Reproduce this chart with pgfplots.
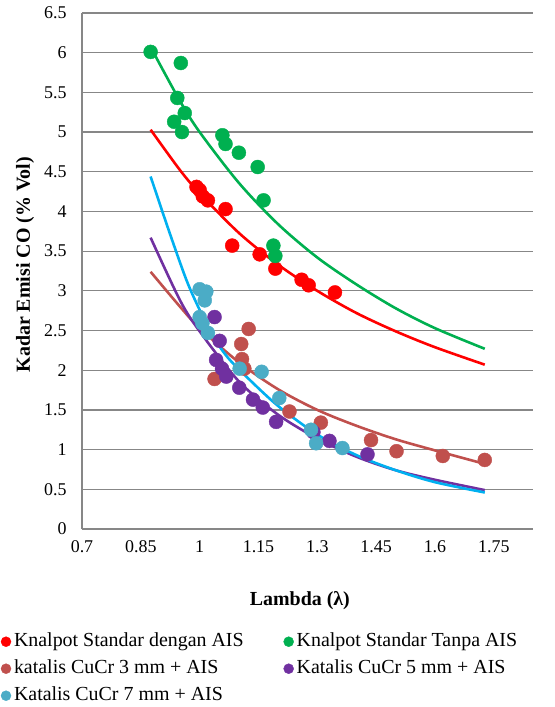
\documentclass[border=0pt]{standalone}
\usepackage{pgfplots}
\pgfplotsset{compat=1.18}
\usepackage{fontspec}
\setmainfont{Liberation Serif}
\definecolor{cRed}{HTML}{FF0000}
\definecolor{cGreen}{HTML}{00B050}
\definecolor{cBrown}{HTML}{C0504D}
\definecolor{cPurple}{HTML}{7030A0}
\definecolor{cTeal}{HTML}{4BACC6}
\definecolor{cCyan}{HTML}{00B0F0}
\definecolor{gridgray}{HTML}{878787}
\newcommand{\lf}{\fontsize{20}{22}\selectfont}
\begin{document}
\begin{tikzpicture}
\useasboundingbox (-82bp,-178bp) rectangle (473bp,529bp);
\begin{axis}[
  at={(0,0)}, anchor=south west,
  scale only axis, width=451bp, height=516bp,
  xmin=0.7, xmax=1.85, ymin=0, ymax=6.5,
  xtick={0.7,0.85,1,1.15,1.3,1.45,1.6,1.75},
  ytick={0,0.5,1,1.5,2,2.5,3,3.5,4,4.5,5,5.5,6,6.5},
  axis x line*=bottom, axis y line*=left,
  axis line style={-, draw=gridgray, line width=1.2bp},
  ymajorgrids, grid style={draw=gridgray, line width=1.2bp},
  major tick length=0pt,
  /pgf/number format/assume math mode=true,
  ticklabel style={font=\fontsize{18}{18}\selectfont},
  yticklabel style={xshift=-12bp},
  xticklabel style={yshift=-8bp},
  xlabel={\textbf{Lambda (λ)}},
  xlabel style={at={(axis description cs:0.483,-0.138)}, anchor=center, font=\fontsize{20}{24}\selectfont},
  ylabel={\textbf{Kadar Emisi CO (\% Vol)}},
  ylabel style={at={(axis description cs:-0.126,0.512)}, anchor=center, rotate=0, font=\fontsize{20}{24}\selectfont},
  legend columns=2,
  legend cell align=left,
  legend style={at={(axis description cs:-0.18,-0.1977)}, anchor=north west, draw=none, fill=none,
    font=\lf, inner sep=0pt, row sep=6bp,
    nodes={inner ysep=1bp, inner xsep=3bp, text height=14bp, text depth=5bp},
    /tikz/every even column/.append style={column sep=37bp}},
  legend image code/.code={\draw[#1, mark size=5bp] plot coordinates {(0bp,0bp)};},
  mark size=7bp,
]
% markers
\addplot[only marks, mark=*, color=cRed] coordinates {
(0.992,4.31)(1.0,4.27)(1.008,4.19)(1.021,4.14)(1.066,4.03)(1.083,3.57)(1.153,3.46)(1.193,3.28)(1.26,3.14)(1.278,3.07)(1.345,2.98)};
\addlegendentry{\lf Knalpot Standar dengan AIS}
\addplot[only marks, mark=*, color=cGreen] coordinates {
(0.875,6.01)(0.952,5.87)(0.943,5.43)(0.935,5.13)(0.962,5.24)(0.955,5.0)(1.058,4.96)(1.066,4.85)(1.1,4.74)(1.148,4.56)(1.163,4.14)(1.188,3.57)(1.193,3.44)};
\addlegendentry{\lf Knalpot Standar Tanpa AIS}
\addplot[only marks, mark=*, color=cBrown] coordinates {
(1.038,1.89)(1.125,2.52)(1.106,2.33)(1.108,2.14)(1.114,2.02)(1.229,1.48)(1.309,1.34)(1.437,1.12)(1.502,0.98)(1.62,0.92)(1.727,0.87)};
\addlegendentry{\lf katalis CuCr 3 mm + AIS}
\addplot[only marks, mark=*, color=cPurple] coordinates {
(1.038,2.67)(1.051,2.37)(1.042,2.13)(1.057,2.02)(1.068,1.92)(1.101,1.78)(1.136,1.63)(1.161,1.53)(1.195,1.35)(1.29,1.22)(1.331,1.11)(1.428,0.94)};
\addlegendentry{\lf Katalis CuCr 5 mm + AIS}
\addplot[only marks, mark=*, color=cTeal] coordinates {
(1.0,3.02)(1.017,2.99)(1.013,2.88)(1.0,2.67)(1.007,2.59)(1.021,2.47)(1.102,2.02)(1.158,1.98)(1.203,1.65)(1.284,1.25)(1.297,1.08)(1.364,1.02)};
\addlegendentry{\lf Katalis CuCr 7 mm + AIS}
% trend lines
\addplot[forget plot, smooth, no marks, color=cRed, line width=2.6bp] coordinates {
(0.875,5.03)(0.95,4.52)(1.0,4.23)(1.1,3.73)(1.2,3.33)(1.3,3.0)(1.4,2.72)(1.5,2.49)(1.6,2.29)(1.727,2.07)};
\addplot[forget plot, smooth, no marks, color=cGreen, line width=2.6bp] coordinates {
(0.875,6.07)(0.95,5.39)(1.0,5.0)(1.1,4.36)(1.2,3.84)(1.3,3.42)(1.4,3.08)(1.5,2.78)(1.6,2.53)(1.727,2.27)};
\addplot[forget plot, smooth, no marks, color=cBrown, line width=2.6bp] coordinates {
(0.875,3.24)(0.95,2.8)(1.0,2.53)(1.1,2.1)(1.2,1.76)(1.3,1.5)(1.4,1.3)(1.5,1.13)(1.6,0.99)(1.727,0.82)};
\addplot[forget plot, smooth, no marks, color=cPurple, line width=2.6bp] coordinates {
(0.875,3.67)(0.95,2.88)(1.0,2.49)(1.1,1.86)(1.2,1.44)(1.3,1.14)(1.4,0.91)(1.5,0.74)(1.6,0.62)(1.727,0.49)};
\addplot[forget plot, smooth, no marks, color=cCyan, line width=2.6bp] coordinates {
(0.875,4.44)(0.92,3.78)(0.966,3.14)(1.0,2.76)(1.034,2.43)(1.07,2.17)(1.119,1.92)(1.2,1.55)(1.3,1.19)(1.4,0.93)(1.5,0.74)(1.6,0.59)(1.727,0.46)};
\node[anchor=west, font=\fontsize{20}{24}\selectfont] at (axis description cs:-0.1375,-0.1434) {Keterangan:};
\end{axis}
\end{tikzpicture}
\end{document}
